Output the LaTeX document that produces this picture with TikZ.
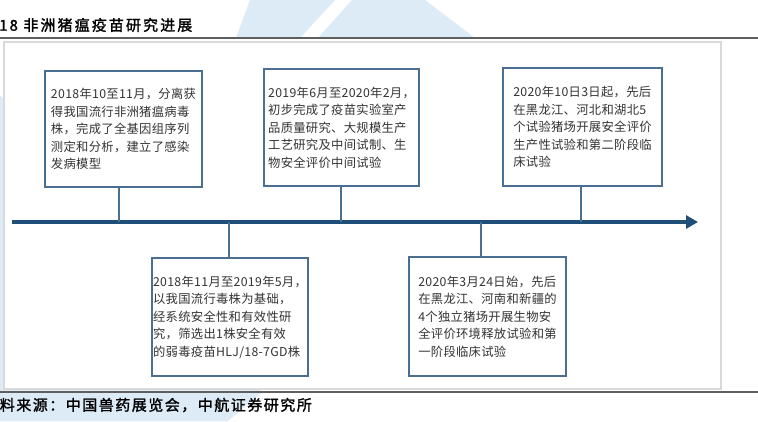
\documentclass[tikz,border=0pt]{standalone}
\usepackage{fontspec}
\usetikzlibrary{arrows.meta}
\newfontfamily\cjk[LetterSpace=2.5]{Noto Sans CJK SC}
\newfontfamily\cjkbold[FakeBold=1.6, LetterSpace=10]{Noto Sans CJK SC}
\newfontfamily\cjktitle[FakeBold=1.6, LetterSpace=14]{Noto Sans CJK SC}
\definecolor{boxline}{HTML}{4A6F91}
\definecolor{axisblue}{HTML}{1F4E79}
\definecolor{frameg}{HTML}{D9D9D9}
\definecolor{ruleg}{HTML}{5F5F5F}
\definecolor{wm}{HTML}{DDEBF6}
\definecolor{txt}{HTML}{333333}
\tikzset{
  x=1pt, y=-1pt,
  evbox/.style={draw=boxline, line width=1.5pt, fill=white, align=left,
    font=\cjk\fontsize{12.3}{17.5}\selectfont, text=txt, inner sep=0pt,
    anchor=center},
  tick/.style={draw=boxline, line width=1.5pt},
  axisline/.style={draw=axisblue, line width=4.5pt, -{Triangle[length=12pt,width=13pt]}}
}
\begin{document}
\begin{tikzpicture}
\useasboundingbox (0,0) rectangle (758,421);
% watermark
\fill[wm] (250,0) -- (335,0) -- (300,38) -- (236,38) -- cycle;
\fill[wm] (352,0) -- (425,0) -- (475,38) -- (318,38) -- cycle;
\fill[wm] (0,95) -- (262,392) -- (228,421) -- (0,421) -- cycle;
% frame
\draw[frameg, line width=1.5pt, fill=white] (4,42) rectangle (721,389);
% rules
\draw[ruleg, line width=2pt] (0,38) -- (758,38);
\draw[ruleg, line width=2pt] (0,392) -- (758,392);
% title and source
\node[anchor=west, inner sep=0pt, font=\cjktitle\fontsize{15}{15}\selectfont, text=black] (title) at (-1,25) {18 非洲猪瘟疫苗研究进展};
\node[anchor=east, inner sep=0pt, font=\cjkbold\fontsize{15}{15}\selectfont, text=black] (src) at (312,405) {料来源：中国兽药展览会，中航证券研究所};
% axis coordinates
\coordinate (as) at (12,222);
\coordinate (ae) at (698,222);
\coordinate (t1) at (119,222);
\coordinate (t2) at (341,222);
\coordinate (t3) at (581,222);
\coordinate (t4) at (229,222);
\coordinate (t5) at (481,222);
% boxes
\node[evbox, minimum width=157pt, minimum height=116pt] (b1) at (123.5,129) {%
2018年10至11月，分离获\\得我国流行非洲猪瘟病毒\\株，完成了全基因组序列\\测定和分析，建立了感染\\发病模型};
\node[evbox, minimum width=155pt, minimum height=117pt] (b2) at (341.5,127.5) {%
2019年6月至2020年2月，\\初步完成了疫苗实验室产\\品质量研究、大规模生产\\工艺研究及中间试制、生\\物安全评价中间试验};
\node[evbox, minimum width=159pt, minimum height=118pt] (b3) at (582.5,127) {%
2020年10日3日起，先后\\在黑龙江、河北和湖北5\\个试验猪场开展安全评价\\生产性试验和第二阶段临\\床试验};
\node[evbox, minimum width=156pt, minimum height=118pt] (b4) at (230,317) {%
2018年11月至2019年5月，\\以我国流行毒株为基础，\\经系统安全性和有效性研\\究，筛选出1株安全有效\\的弱毒疫苗HLJ/18-7GD株};
\node[evbox, minimum width=157pt, minimum height=119pt] (b5) at (487.5,316.5) {%
2020年3月24日始，先后\\在黑龙江、河南和新疆的\\4个独立猪场开展生物安\\全评价环境释放试验和第\\一阶段临床试验};
% axis
\draw[axisline] (as) -- (ae);
% connectors
\draw[tick] (b1.south -| t1) -- (t1);
\draw[tick] (b2.south -| t2) -- (t2);
\draw[tick] (b3.south -| t3) -- (t3);
\draw[tick] (b4.north -| t4) -- (t4);
\draw[tick] (b5.north -| t5) -- (t5);
\end{tikzpicture}
\end{document}
